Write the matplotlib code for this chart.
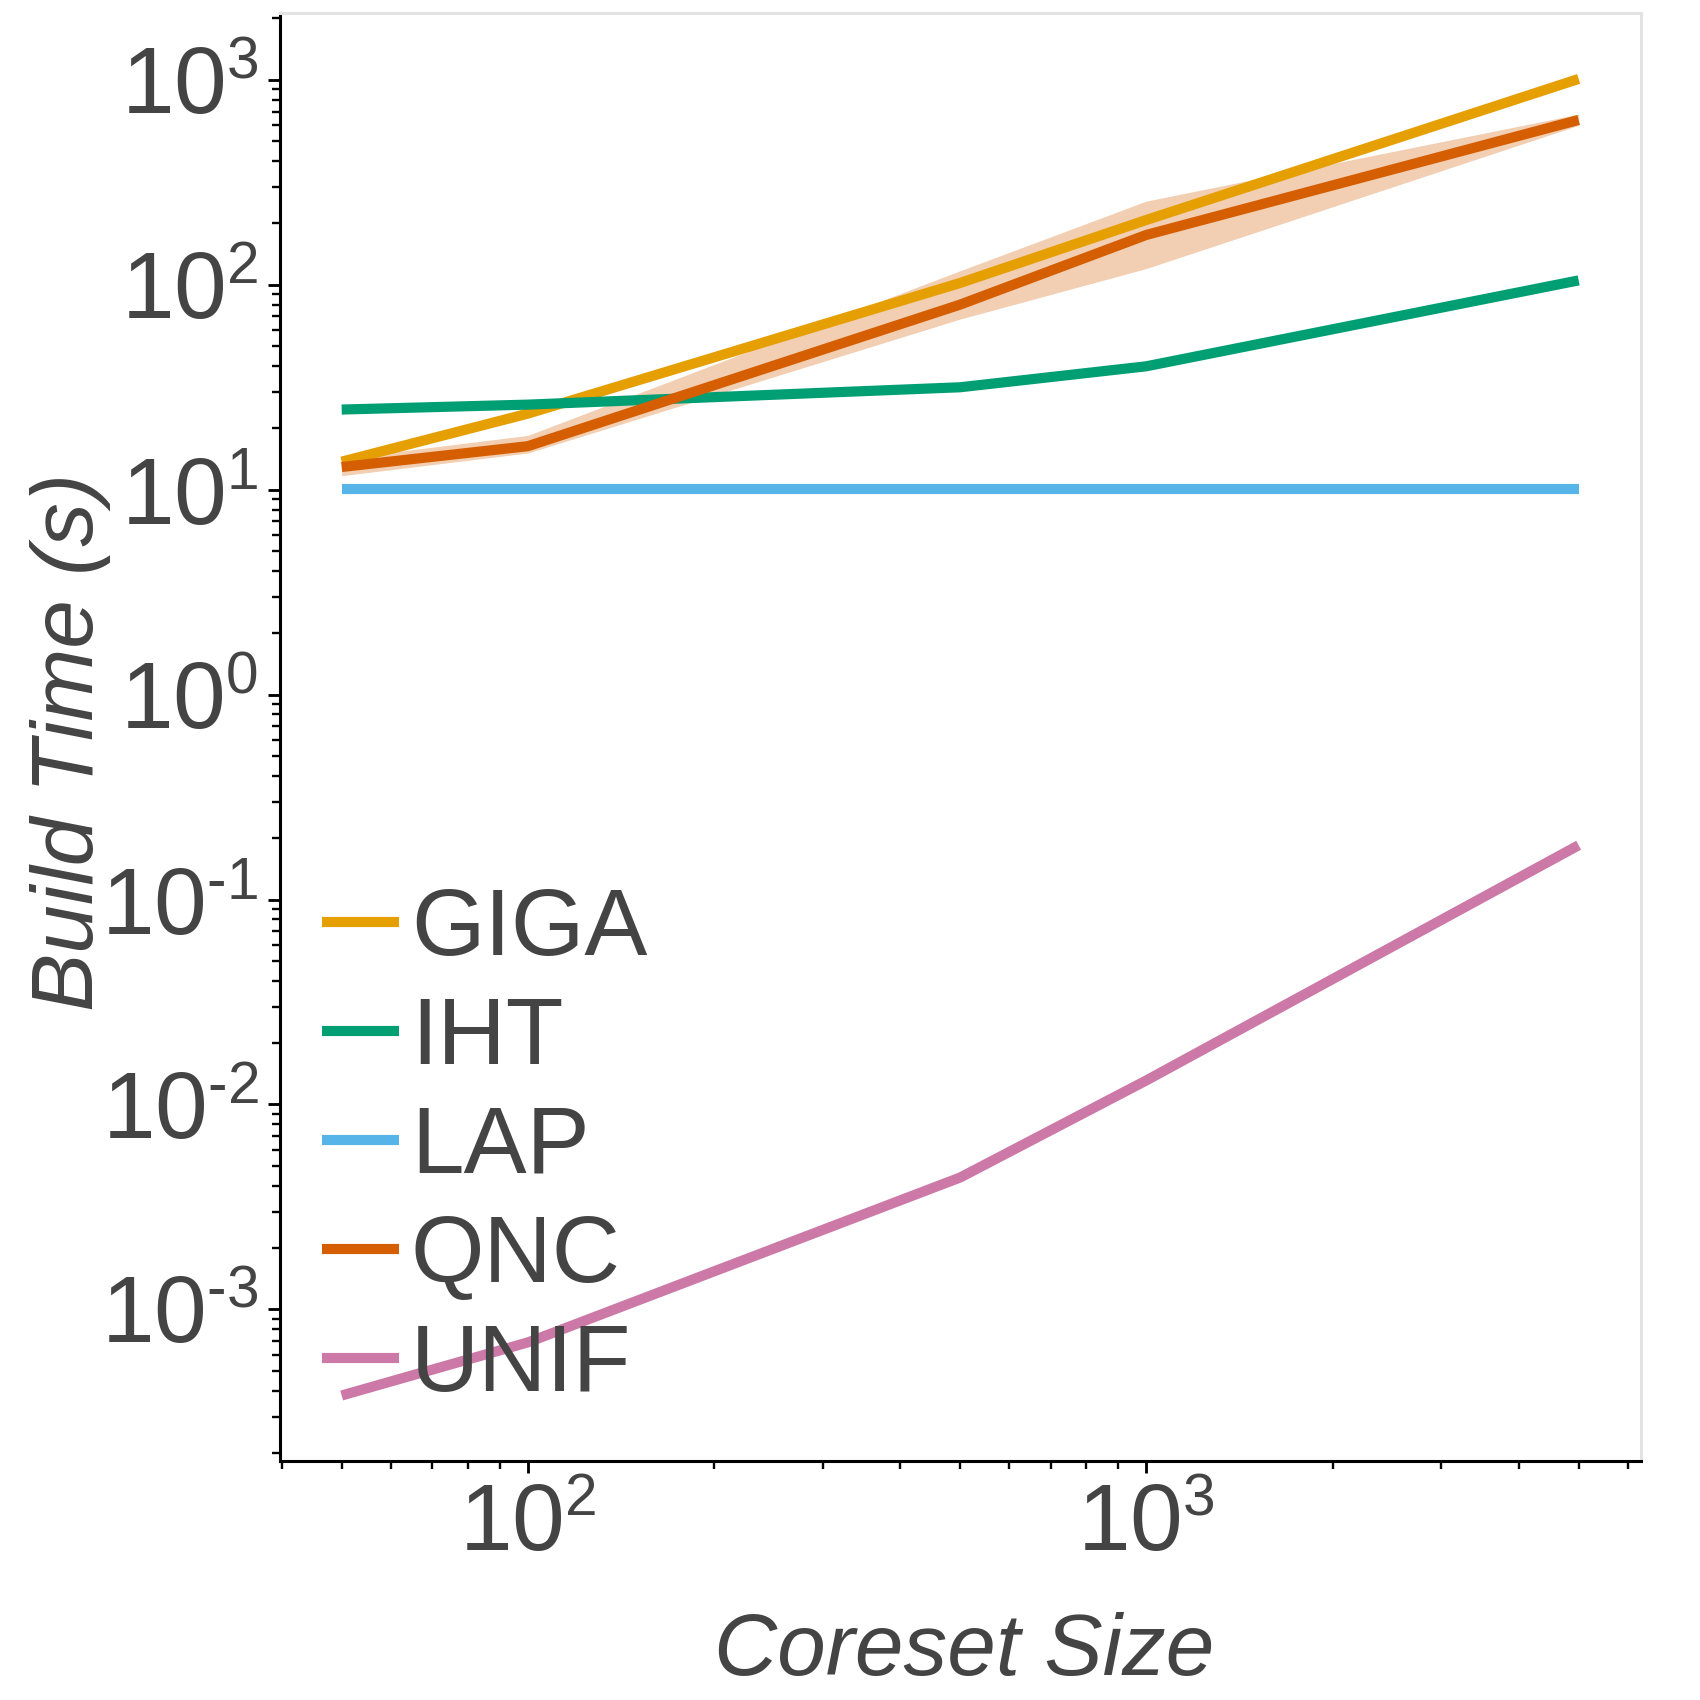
import matplotlib
matplotlib.use("Agg")
import matplotlib.pyplot as plt
import matplotlib._mathtext as _mt
from matplotlib.ticker import LogLocator, FuncFormatter, NullFormatter
import numpy as np

# smaller superscripts, closer to the reference typesetting
_mt.SHRINK_FACTOR = 0.62

# ---- data ----
coreset_size = [50, 100, 500, 1000, 5000]
giga = [13.7, 23.5, 102, 207, 1010]
iht = [24.6, 26.0, 31.6, 40.0, 105]
lap = [10.1, 10.1, 10.1, 10.1, 10.1]
qnc = [12.9, 16.3, 80, 175, 637]
qnc_lo = [11.7, 15.1, 68, 120, 600]
qnc_hi = [14.2, 18.4, 117, 256, 680]
unif = [3.8e-4, 6.9e-4, 4.4e-3, 0.0131, 0.184]

labels = ["GIGA", "IHT", "LAP", "QNC", "UNIF"]
colors = ["#E69F00", "#009E73", "#56B4E9", "#D55E00", "#CC79A7"]

plt.rcParams['font.family'] = ['Liberation Sans', 'DejaVu Sans']
plt.rcParams['mathtext.fontset'] = 'custom'
plt.rcParams['mathtext.rm'] = 'Liberation Sans'
plt.rcParams['mathtext.it'] = 'Liberation Sans:italic'
plt.rcParams['mathtext.default'] = 'regular'

TXT = "#444444"
FS = 40

fig = plt.figure(figsize=(10, 10), dpi=170)
ax = fig.add_axes([0.1646, 0.1404, 0.8004, 0.8519])

series = [giga, iht, lap, qnc, unif]
ax.fill_between(coreset_size, qnc_lo, qnc_hi, color=colors[3], alpha=0.3, lw=0)
for s, lab, c in zip(series, labels, colors):
    ax.plot(coreset_size, s, color=c, lw=4.3, label=lab, solid_capstyle='butt')

ax.set_xscale('log')
ax.set_yscale('log')

def fmt(v, pos):
    e = int(round(np.log10(v)))
    return r'$10^{\text{%d}}$' % e

ax.xaxis.set_major_locator(LogLocator(base=10, numticks=20))
ax.yaxis.set_major_locator(LogLocator(base=10, numticks=20))
ax.xaxis.set_minor_locator(LogLocator(base=10, subs=np.arange(2, 10), numticks=20))
ax.yaxis.set_minor_locator(LogLocator(base=10, subs=np.arange(2, 10), numticks=20))
ax.xaxis.set_major_formatter(FuncFormatter(fmt))
ax.yaxis.set_major_formatter(FuncFormatter(fmt))
ax.xaxis.set_minor_formatter(NullFormatter())
ax.yaxis.set_minor_formatter(NullFormatter())

ax.tick_params(which='major', length=5, width=1.2, color='black', labelsize=FS,
               labelcolor=TXT, pad=4, direction='out')
ax.tick_params(which='minor', length=3.2, width=1.0, color='black', direction='out')

for side in ['left', 'bottom']:
    ax.spines[side].set_color('black')
    ax.spines[side].set_linewidth(1.3)
for side in ['top', 'right']:
    ax.spines[side].set_color('#e3e3e3')
    ax.spines[side].set_linewidth(1.3)

ax.set_xlabel('Coreset Size', fontsize=37, color=TXT, style='italic')
ax.set_ylabel('Build Time (s)', fontsize=37, color=TXT, style='italic')
ax.xaxis.set_label_coords(0.503, -0.104)
ax.yaxis.set_label_coords(-0.124, 0.497)

leg = ax.legend(loc='lower left', frameon=False, fontsize=FS, handlelength=0.82,
                handletextpad=0.12, labelspacing=0.21, borderaxespad=0.0, borderpad=0.0,
                bbox_to_anchor=(0.031, 0.035))
for t in leg.get_texts():
    t.set_color(TXT)

fig.savefig('out.png', dpi=170, facecolor='white')
